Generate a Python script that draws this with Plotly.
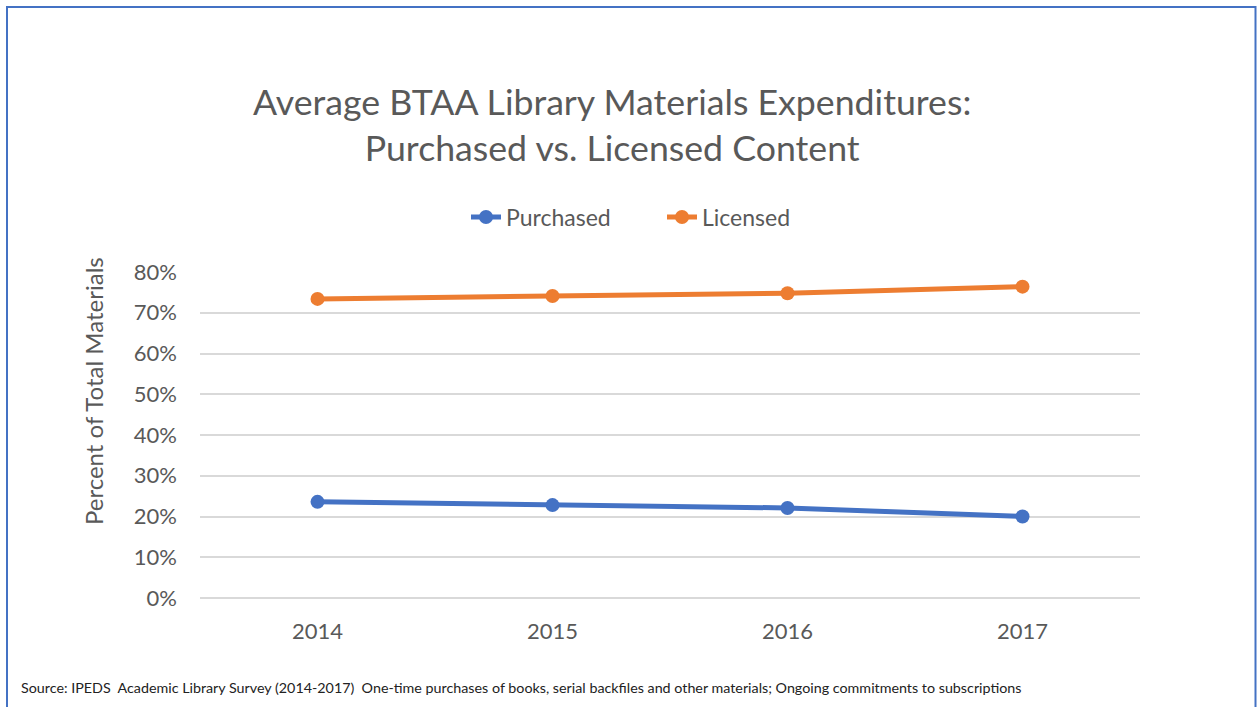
import plotly.graph_objects as go

years = ["2014", "2015", "2016", "2017"]
purchased = [0.236, 0.228, 0.221, 0.200]
licensed = [0.734, 0.741, 0.748, 0.764]
y_ticks = [0, 0.1, 0.2, 0.3, 0.4, 0.5, 0.6, 0.7, 0.8]
y_tick_labels = ["0%", "10%", "20%", "30%", "40%", "50%", "60%", "70%", "80%"]

W, H = 1257, 707
L, R, T, B = 200, 117, 272, 109
pw, ph = W - L - R, H - T - B

def px_x(p):
    return (p - L) / pw

def px_y(p):
    return (H - B - p) / ph

font_family = "Lato, Open Sans, sans-serif"
grey = "#595959"

fig = go.Figure()
fig.add_trace(go.Scatter(x=years, y=purchased, name="Purchased", mode="lines+markers",
                         line=dict(color="#4472C4", width=5),
                         marker=dict(color="#4472C4", size=14)))
fig.add_trace(go.Scatter(x=years, y=licensed, name="Licensed", mode="lines+markers",
                         line=dict(color="#ED7D31", width=5),
                         marker=dict(color="#ED7D31", size=14)))

fig.update_layout(
    width=W, height=H,
    margin=dict(l=L, r=R, t=T, b=B),
    paper_bgcolor="white", plot_bgcolor="white",
    font=dict(family=font_family, color=grey),
    showlegend=True,
    legend=dict(orientation="h", x=px_x(466), xanchor="left", y=px_y(217), yanchor="middle",
                font=dict(size=23, color=grey), traceorder="normal",
                entrywidth=151, entrywidthmode="pixels"),
    xaxis=dict(type="category", range=[-0.5, 3.5], showgrid=False, showline=False,
               zeroline=False, ticks="", ticklabelstandoff=18,
               tickfont=dict(size=22, color=grey)),
    yaxis=dict(range=[0, 0.8], tickvals=y_ticks, ticktext=y_tick_labels,
               showgrid=True, gridcolor="#D9D9D9", gridwidth=1.5,
               zeroline=True, zerolinecolor="#D9D9D9", zerolinewidth=1.5,
               showline=False, ticks="", ticklabelstandoff=22,
               tickfont=dict(size=22, color=grey)),
)

fig.add_annotation(text="Percent of Total Materials",
                   xref="paper", yref="paper", x=px_x(93), y=px_y(391),
                   xanchor="center", yanchor="middle", showarrow=False, textangle=-90,
                   font=dict(size=24, color=grey, family=font_family))

fig.add_annotation(text="Average BTAA Library Materials Expenditures:<br>Purchased vs. Licensed Content",
                   xref="paper", yref="paper", x=px_x(612), y=px_y(125),
                   xanchor="center", yanchor="middle", showarrow=False,
                   font=dict(size=35.7, color=grey, family=font_family))

fig.add_annotation(text="Source: IPEDS  Academic Library Survey (2014-2017)  One-time purchases of books, serial backfiles and other materials; Ongoing commitments to subscriptions",
                   xref="paper", yref="paper", x=px_x(19), y=px_y(687),
                   xanchor="left", yanchor="middle", showarrow=False,
                   font=dict(size=14.3, color="#222222", family=font_family))

fig.add_shape(type="rect", xref="paper", yref="paper",
              x0=px_x(7), x1=px_x(1255.5), y0=px_y(720), y1=px_y(7),
              line=dict(color="#4472C4", width=2), fillcolor="rgba(0,0,0,0)", layer="above")

fig.write_html("out.html", config={"displayModeBar": False},
               post_script="document.body.style.margin='0';document.body.style.overflow='hidden';")
